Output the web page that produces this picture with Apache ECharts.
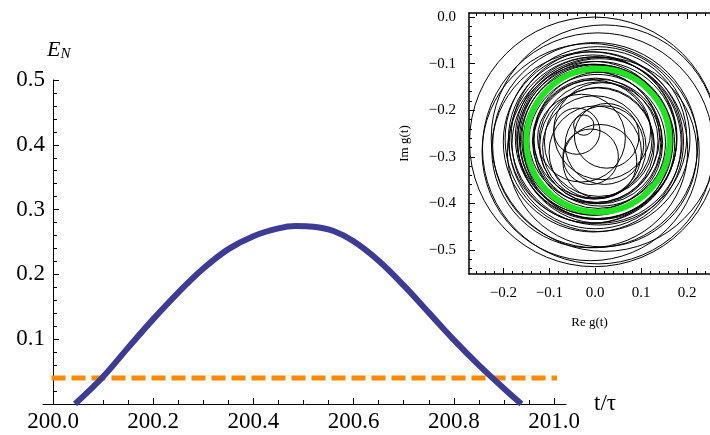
<!DOCTYPE html>
<html lang="en">
<head>
    <meta charset="UTF-8">
    <title>E_N vs t</title>
    <script src="https://cdn.jsdelivr.net/npm/echarts@6/dist/echarts.min.js"></script>
    <style>
        html, body { margin: 0; padding: 0; background: #fff; }
        #charts { width: 710px; height: 435px; }
    </style>
</head>
<body>
<div id="charts"></div>

<script>
    // main curve
    var enTime  = [200.044, 200.10, 200.15, 200.20, 200.25, 200.30, 200.35, 200.40, 200.45, 200.485,
                   200.52, 200.56, 200.60, 200.65, 200.70, 200.75, 200.80, 200.85, 200.90, 200.935];
    var enValue = [0, 0.042, 0.087, 0.131, 0.172, 0.209, 0.239, 0.259, 0.271, 0.2745,
                   0.2735, 0.267, 0.251, 0.221, 0.183, 0.141, 0.099, 0.060, 0.024, 0];
    var threshold = 0.04;
    var thresholdRange = [199.997, 201.008];

    // inset: loops of g(t) as circles (centre x, centre y, radius)
    var loopX = [0.005, -0.004, 0.008, 0.000, -0.006, 0.010, 0.002, -0.008, 0.006, 0.000,
                 -0.004, 0.008, 0.003, -0.002, 0.010, -0.006, 0.004, 0.012, -0.003, 0.006,
                 0.000, 0.010, -0.005, 0.004, 0.008, -0.002,
                 -0.002, 0.006, -0.010, 0.000, -0.012, 0.020, 0.015,
                 0.000, 0.020, 0.025, -0.010, -0.030, -0.025, -0.040, 0.010, 0.015];
    var loopY = [-0.262, -0.268, -0.258, -0.270, -0.262, -0.266, -0.259, -0.272, -0.264, -0.268,
                 -0.260, -0.272, -0.263, -0.267, -0.261, -0.266, -0.270, -0.262, -0.258, -0.272,
                 -0.266, -0.270, -0.262, -0.275, -0.268, -0.280,
                 -0.268, -0.282, -0.290, -0.275, -0.285, -0.260, -0.290,
                 -0.290, -0.275, -0.255, -0.300, -0.260, -0.232, -0.245, -0.310, -0.245];
    var loopR = [0.200, 0.195, 0.190, 0.186, 0.182, 0.178, 0.175, 0.172, 0.170, 0.168,
                 0.166, 0.164, 0.162, 0.160, 0.158, 0.150, 0.148, 0.145, 0.142, 0.140,
                 0.136, 0.132, 0.128, 0.124, 0.118, 0.112,
                 0.270, 0.250, 0.235, 0.222, 0.212, 0.245, 0.205,
                 0.100, 0.085, 0.070, 0.060, 0.095, 0.022, 0.050, 0.080, 0.105];
    var orbit = [0.006, -0.265, 0.155];   // green limit cycle

    var insetMajorX = [-0.2, -0.1, 0, 0.1, 0.2];
    var insetMinorX = [-0.26, -0.24, -0.22, -0.18, -0.16, -0.14, -0.12, -0.08, -0.06, -0.04, -0.02,
                       0.02, 0.04, 0.06, 0.08, 0.12, 0.14, 0.16, 0.18, 0.22, 0.24];
    var insetMajorY = [0, -0.1, -0.2, -0.3, -0.4, -0.5];
    var insetMinorY = [-0.54, -0.52, -0.48, -0.46, -0.44, -0.42, -0.38, -0.36, -0.34, -0.32,
                       -0.28, -0.26, -0.24, -0.22, -0.18, -0.16, -0.14, -0.12, -0.08, -0.06, -0.04, -0.02];

    var serif = 'Liberation Serif';
    var black = '#000';

    var curve = [];
    for (var i = 0; i < enTime.length; i++) {
        curve.push([enTime[i], enValue[i]]);
    }
    var loops = [];
    for (var j = 0; j < loopR.length; j++) {
        loops.push([loopX[j], loopY[j], loopR[j]]);
    }

    function fmtInset(v) {
        if (Math.abs(v) < 1e-9) return '0.0';
        return (v < 0 ? '\u2212' : '') + Math.abs(v).toFixed(1);
    }

    function circleItem(stroke, width) {
        return function (params, api) {
            var c = api.coord([api.value(0), api.value(1)]);
            var s = api.size([api.value(2), api.value(2)]);
            return {
                type: 'circle',
                shape: {cx: c[0], cy: c[1], r: (s[0] + s[1]) / 2},
                style: {fill: 'none', stroke: stroke, lineWidth: width}
            };
        };
    }

    var chart = echarts.init(document.getElementById('charts'));

    var option = {
        animation: false,
        backgroundColor: '#fff',
        grid: [
            {left: 53, top: 80, width: 501, height: 324},
            {left: 43, top: 80, width: 523, height: 324},
            {left: 469, top: 13, width: 245, height: 261}
        ],
        xAxis: [
            {
                gridIndex: 0, type: 'value', min: 200, max: 201, interval: 0.2,
                axisLine: {show: false},
                axisTick: {show: true, inside: true, length: 6, lineStyle: {color: black}},
                minorTick: {show: true, splitNumber: 4, length: 4, lineStyle: {color: black}},
                splitLine: {show: false},
                axisLabel: {
                    color: black, fontFamily: serif, fontSize: 23, margin: 6,
                    formatter: function (v) { return v.toFixed(1); }
                }
            },
            {
                gridIndex: 1, type: 'value', min: 0, max: 1,
                axisLine: {show: true, lineStyle: {color: black, width: 1}},
                axisTick: {show: false}, axisLabel: {show: false}, splitLine: {show: false},
                name: 't/\u03c4', nameLocation: 'end', nameGap: 28,
                nameTextStyle: {color: black, fontFamily: serif, fontSize: 23, padding: [0, 0, 8, 0]}
            },
            {
                gridIndex: 2, type: 'value', min: -0.275, max: 0.25, position: 'bottom',
                axisLine: {show: true, onZero: false, lineStyle: {color: black, width: 1.5}},
                axisTick: {show: true, inside: true, length: 6, customValues: insetMajorX, lineStyle: {color: black}},
                axisLabel: {
                    customValues: insetMajorX, color: black, fontFamily: serif, fontSize: 15, margin: 12,
                    formatter: fmtInset
                },
                splitLine: {show: false},
                name: 'Re g(t)', nameLocation: 'middle', nameGap: 42,
                nameTextStyle: {color: black, fontFamily: serif, fontSize: 13}
            },
            {
                gridIndex: 2, type: 'value', min: -0.275, max: 0.25, position: 'bottom',
                axisLine: {show: false, onZero: false},
                axisTick: {show: true, inside: true, length: 3, customValues: insetMinorX, lineStyle: {color: black}},
                axisLabel: {show: false}, splitLine: {show: false}
            },
            {
                gridIndex: 2, type: 'value', min: -0.275, max: 0.25, position: 'top',
                axisLine: {show: true, onZero: false, lineStyle: {color: black, width: 1.5}},
                axisTick: {show: true, inside: true, length: 6, customValues: insetMajorX, lineStyle: {color: black}},
                axisLabel: {show: false}, splitLine: {show: false}
            },
            {
                gridIndex: 2, type: 'value', min: -0.275, max: 0.25, position: 'top',
                axisLine: {show: false, onZero: false},
                axisTick: {show: true, inside: true, length: 3, customValues: insetMinorX, lineStyle: {color: black}},
                axisLabel: {show: false}, splitLine: {show: false}
            }
        ],
        yAxis: [
            {
                gridIndex: 0, type: 'value', min: 0, max: 0.5, interval: 0.1,
                axisLine: {show: true, lineStyle: {color: black, width: 1}},
                axisTick: {show: true, inside: true, length: 6, lineStyle: {color: black}},
                minorTick: {show: true, splitNumber: 5, length: 4, lineStyle: {color: black}},
                splitLine: {show: false},
                axisLabel: {
                    color: black, fontFamily: serif, fontSize: 23, margin: 8,
                    formatter: function (v) { return v === 0 ? '' : v.toFixed(1); }
                },
                name: '{e|E}{n|N}', nameLocation: 'end', nameGap: 18,
                nameTextStyle: {
                    color: black, align: 'left', padding: [0, 0, 0, -6],
                    rich: {
                        e: {fontFamily: serif, fontStyle: 'italic', fontSize: 22, color: black},
                        n: {fontFamily: serif, fontStyle: 'italic', fontSize: 15, color: black, padding: [8, 0, 0, 0]}
                    }
                }
            },
            {gridIndex: 1, type: 'value', min: 0, max: 0.5, show: false},
            {
                gridIndex: 2, type: 'value', min: -0.552, max: 0.009, position: 'left',
                axisLine: {show: true, onZero: false, lineStyle: {color: black, width: 1.5}},
                axisTick: {show: true, inside: true, length: 6, customValues: insetMajorY, lineStyle: {color: black}},
                axisLabel: {
                    customValues: insetMajorY, color: black, fontFamily: serif, fontSize: 15, margin: 13,
                    formatter: fmtInset
                },
                splitLine: {show: false},
                name: 'Im g(t)', nameLocation: 'middle', nameGap: 58, nameRotate: 90,
                nameTextStyle: {color: black, fontFamily: serif, fontSize: 13}
            },
            {
                gridIndex: 2, type: 'value', min: -0.552, max: 0.009, position: 'left',
                axisLine: {show: false, onZero: false},
                axisTick: {show: true, inside: true, length: 3, customValues: insetMinorY, lineStyle: {color: black}},
                axisLabel: {show: false}, splitLine: {show: false}
            }
        ],
        series: [
            {
                type: 'line', xAxisIndex: 0, yAxisIndex: 0,
                data: curve, smooth: 0.35, showSymbol: false, symbol: 'none',
                lineStyle: {color: '#3c3c98', width: 6, cap: 'butt'},
                z: 3
            },
            {
                type: 'line', xAxisIndex: 0, yAxisIndex: 0, clip: false,
                data: [[thresholdRange[0], threshold], [thresholdRange[1], threshold]],
                showSymbol: false, symbol: 'none',
                lineStyle: {color: '#ff8a00', width: 5, type: [14, 6], cap: 'butt'},
                z: 2
            },
            {
                type: 'custom', xAxisIndex: 2, yAxisIndex: 2, clip: true,
                data: loops, renderItem: circleItem(black, 1), z: 3
            },
            {
                type: 'custom', xAxisIndex: 2, yAxisIndex: 2, clip: true,
                data: [orbit], renderItem: circleItem('#1ee61e', 6), z: 4
            }
        ]
    };

    chart.setOption(option);
</script>
</body>
</html>
